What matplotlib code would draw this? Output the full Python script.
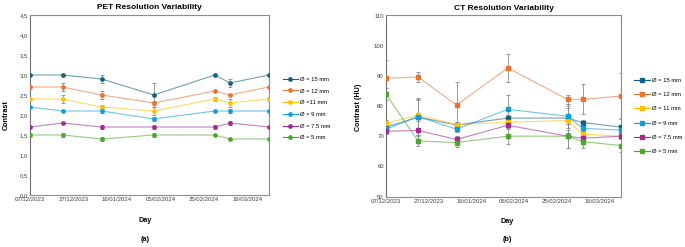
import numpy as np
import pandas as pd
import matplotlib
matplotlib.use("Agg")
import matplotlib.pyplot as plt
import matplotlib.dates as mdates
from matplotlib.lines import Line2D
from matplotlib.ticker import FuncFormatter, MultipleLocator

plt.rcParams["font.family"] = ["Liberation Sans", "DejaVu Sans"]

dates = pd.to_datetime(["2023-12-07", "2023-12-22", "2024-01-09", "2024-02-02",
                        "2024-03-01", "2024-03-08", "2024-03-26"])

pet_labels = ["Ø = 15 mm", "Ø = 12 mm", "Ø =11 mm", "Ø = 9 mm", "Ø = 7.5 mm", "Ø = 5 mm"]
ct_labels = ["Ø = 15 mm", "Ø = 12 mm", "Ø = 11 mm", "Ø = 9 mm", "Ø = 7.5 mm", "Ø = 5 mm"]

pet_15 = [3.0, 3.0, 2.9, 2.5, 3.0, 2.8, 3.0]
pet_12 = [2.7, 2.7, 2.5, 2.3, 2.6, 2.5, 2.7]
pet_11 = [2.4, 2.4, 2.2, 2.1, 2.4, 2.3, 2.4]
pet_9 = [2.2, 2.1, 2.1, 1.9, 2.1, 2.1, 2.1]
pet_7 = [1.7, 1.8, 1.7, 1.7, 1.7, 1.8, 1.7]
pet_5 = [1.5, 1.5, 1.4, 1.5, 1.5, 1.4, 1.4]

pet_15_err = [0, 0, 0.1, 0.3, 0, 0.1, 0]
pet_12_err = [0, 0.1, 0.1, 0.05, 0, 0, 0]
pet_11_err = [0, 0.1, 0.05, 0.1, 0.05, 0.1, 0.05]
pet_9_err = [0, 0, 0.05, 0.05, 0, 0.05, 0]
pet_7_err = [0, 0, 0.05, 0.05, 0.05, 0.05, 0]
pet_5_err = [0.05, 0.05, 0.05, 0.05, 0, 0, 0]

ct_15 = [73.0, 76.3, 73.7, 76.0, 76.0, 74.5, 73.0]
ct_12 = [89.2, 89.6, 80.3, 92.6, 82.2, 82.2, 83.3]
ct_11 = [74.2, 77.0, 73.8, 74.6, 75.2, 70.7, 70.0]
ct_9 = [72.3, 76.5, 72.3, 78.9, 76.6, 72.6, 72.0]
ct_7 = [71.6, 71.9, 68.9, 73.6, 70.0, 69.3, 70.0]
ct_5 = [83.9, 68.4, 67.9, 70.0, 70.0, 68.2, 66.9]

ct_15_err = [1, 6, 1, 1, 4, 1, 3]
ct_12_err = [6, 1.6, 7.5, 4.8, 1.6, 5, 7.5]
ct_11_err = [1, 5, 1, 1, 4, 1, 1]
ct_9_err = [1, 6, 1, 4.8, 4, 1, 1]
ct_7_err = [1, 3, 1, 1, 4, 1, 1]
ct_5_err = [2, 1.5, 1.5, 2.5, 4, 2, 2]

colors = ["#156082", "#E97132", "#FFC000", "#0F9ED5", "#A02B93", "#4EA72E"]

pet_series = [pet_15, pet_12, pet_11, pet_9, pet_7, pet_5]
pet_errs = [pet_15_err, pet_12_err, pet_11_err, pet_9_err, pet_7_err, pet_5_err]
ct_series = [ct_15, ct_12, ct_11, ct_9, ct_7, ct_5]
ct_errs = [ct_15_err, ct_12_err, ct_11_err, ct_9_err, ct_7_err, ct_5_err]

fig = plt.figure(figsize=(6.85, 2.47), dpi=100)
ax1 = fig.add_axes([30 / 685, 52 / 247, 239 / 685, 180 / 247])
ax2 = fig.add_axes([386 / 685, 50.5 / 247, 235 / 685, 181 / 247])


def draw(ax, series, errs, labels, marker, title, ylim, ystep, fmt, leg_y, leg_space):
    handles = []
    for vals, err, lab, c in zip(series, errs, labels, colors):
        ax.errorbar(dates, vals, yerr=err, fmt="none", ecolor="#8c8c8c", elinewidth=0.6,
                    capsize=1.3, capthick=0.6, zorder=2)
        ax.plot(dates, vals, color=c, lw=0.8, alpha=0.6, zorder=3)
        ax.plot(dates, vals, color=c, lw=0, marker=marker, ms=2.4, zorder=4)
        handles.append(Line2D([], [], color=c, lw=0.8, marker=marker, ms=2.4, label=lab))
    ax.set_xlim(dates[0], dates[-1])
    ax.set_ylim(*ylim)
    ax.yaxis.set_major_locator(MultipleLocator(ystep))
    ax.yaxis.set_major_formatter(FuncFormatter(fmt))
    ticks = pd.date_range(dates[0], dates[-1], freq="20D")
    ax.set_xticks(ticks)
    ax.xaxis.set_major_formatter(mdates.DateFormatter("%d/%m/%Y"))
    ax.tick_params(labelsize=4.3, length=0, pad=1.5, colors="#404040")
    for s in ax.spines.values():
        s.set_color("#8c8c8c")
        s.set_linewidth(0.8)
    ax.spines["left"].set_color("#6e6e6e")
    ax.set_title(title, fontsize=6, fontweight="bold", pad=4)
    ax.legend(handles=handles, loc="center left", bbox_to_anchor=(1.035, leg_y), frameon=False,
              fontsize=4.2, labelspacing=leg_space, handlelength=2.6, handletextpad=0.4)


draw(ax1, pet_series, pet_errs, pet_labels, "o", "PET Resolution Variability",
     (0, 4.5), 0.5, lambda v, p: f"{v:.1f}".replace(".", ","), 0.48, 1.14)
draw(ax2, ct_series, ct_errs, ct_labels, "s", "CT Resolution Variability",
     (50, 110), 10, lambda v, p: f"{v:.0f}", 0.445, 1.56)

fig.text(6 / 685, 1 - 115 / 247, "Contrast", rotation=90, ha="center", va="center",
         fontsize=5.2, fontweight="bold")
fig.text(359 / 685, 1 - 107 / 247, "Contrast (HU)", rotation=90, ha="center", va="center",
         fontsize=5.2, fontweight="bold")
fig.text(145 / 685, 1 - 220 / 247, "Day", ha="center", va="center", fontsize=5.2, fontweight="bold")
fig.text(507 / 685, 1 - 221 / 247, "Day", ha="center", va="center", fontsize=5.2, fontweight="bold")
fig.text(145 / 685, 1 - 239 / 247, "(a)", ha="center", va="center", fontsize=5.2, fontweight="bold")
fig.text(507 / 685, 1 - 239 / 247, "(b)", ha="center", va="center", fontsize=5.2, fontweight="bold")

fig.savefig("out.png", dpi=100)
